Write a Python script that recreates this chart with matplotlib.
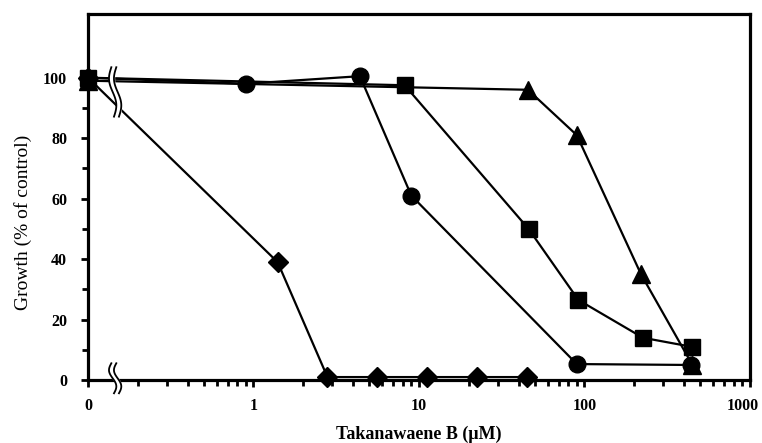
import matplotlib.pyplot as plt
import numpy as np
from matplotlib.ticker import FixedLocator, NullFormatter
from matplotlib.transforms import ScaledTranslation

# concentrations in uM (0 = control, drawn at the left edge of the log axis)
conc_circle = [0, 0.9, 4.4, 9, 90, 440]
growth_circle = [100, 98, 100.5, 61, 5.3, 5]
conc_square = [0, 8.2, 46, 92, 226, 447]
growth_square = [100, 97.5, 50, 26.5, 14, 11]
conc_triangle = [0, 45.6, 90, 220, 450]
growth_triangle = [99, 96, 81, 35, 5]
conc_diamond = [0, 1.4, 2.8, 5.6, 11.2, 22.5, 45]
growth_diamond = [100, 39, 1, 1, 1, 1, 1]

x_ticks = [0, 1, 10, 100, 1000]
x_tick_labels = ['0', '1', '10', '100', '1000']
y_ticks = [0, 20, 40, 60, 80, 100]

ZERO_POS = 0.1  # where the control (0 uM) sits on the log axis


def to_axis(conc):
    return [ZERO_POS if c == 0 else c for c in conc]


plt.rcParams['font.family'] = ['Liberation Serif', 'DejaVu Serif']

fig = plt.figure(figsize=(7.62, 4.43), dpi=100)
ax = fig.add_axes([0.1155, 0.142, 0.8685, 0.826])

series = [(conc_diamond, growth_diamond, 'D', 10),
          (conc_triangle, growth_triangle, '^', 13),
          (conc_square, growth_square, 's', 11),
          (conc_circle, growth_circle, 'o', 12)]
for conc, growth, marker, ms in series:
    ax.plot(to_axis(conc), growth, color='black', lw=1.6, marker=marker,
            markersize=ms, clip_on=False, zorder=3)

ax.set_xscale('log')
ax.set_xlim(ZERO_POS, 1000)
ax.set_ylim(0, 121)

ax.xaxis.set_major_locator(FixedLocator(to_axis(x_ticks)))
ax.set_xticklabels(x_tick_labels)
minor_x = [m * 10.0 ** e for e in range(-1, 3) for m in range(2, 10)]
ax.xaxis.set_minor_locator(FixedLocator(minor_x))
ax.xaxis.set_minor_formatter(NullFormatter())
ax.set_yticks(y_ticks)
ax.yaxis.set_minor_locator(FixedLocator([10, 30, 50, 70, 90]))

for side in ['top', 'bottom', 'left', 'right']:
    ax.spines[side].set_linewidth(2.3)

ax.tick_params(axis='both', which='major', direction='out', length=5, width=2,
               labelsize=11.5)
ax.tick_params(axis='both', which='minor', direction='out', length=4, width=2)
ax.tick_params(axis='y', which='major', pad=10)
ax.tick_params(axis='x', which='major', pad=8)
for lbl in ax.get_xticklabels() + ax.get_yticklabels():
    lbl.set_fontweight('bold')
# keep the last x label inside the figure, as in the original
last = ax.get_xticklabels()[-1]
last.set_transform(last.get_transform() + ScaledTranslation(-7 / 100, 0, fig.dpi_scale_trans))

ax.set_xlabel('Takanawaene B (\u03bcM)', fontsize=13, fontweight='bold', labelpad=8)
ax.set_ylabel('Growth (% of control)', fontsize=14, labelpad=12)
ax.yaxis.set_label_coords(-0.085, 0.43)


# axis break marks (two wavy strokes with a white gap)
def draw_break(xc, y0, y1, amp=0.0045, gap=0.0075):
    t = np.linspace(0, 1, 60)
    ys = y0 + (y1 - y0) * t
    xs = xc + amp * np.sin(2 * np.pi * t) - 0.004 * (t - 0.5)
    ax.fill_betweenx(ys, xs - gap / 2, xs + gap / 2, color='white',
                     transform=ax.transAxes, clip_on=False, zorder=5)
    for off in (-gap / 2, gap / 2):
        ax.plot(xs + off, ys, color='black', lw=1.3, transform=ax.transAxes,
                clip_on=False, zorder=6)


draw_break(0.041, 0.72, 0.855)
draw_break(0.041, -0.036, 0.046)

fig.savefig('out.png', dpi=100)
